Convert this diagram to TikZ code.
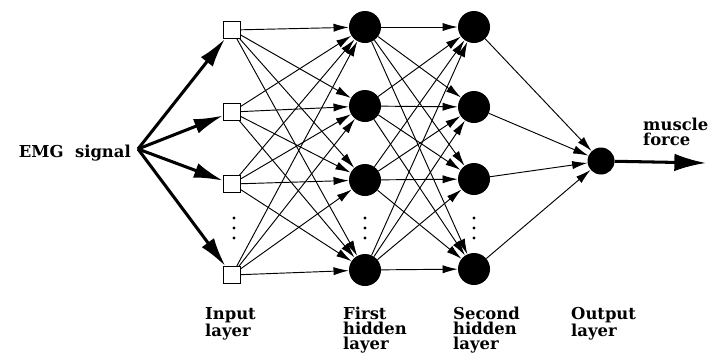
\documentclass[tikz,border=0pt]{standalone}
\usepackage{fontspec}
\setmainfont{DejaVu Serif}
\usetikzlibrary{arrows.meta}
\begin{document}
\begin{tikzpicture}[x=0.03cm, y=-0.03cm,
    font=\bfseries\fontsize{14}{12.8}\selectfont,
    >={Latex[length=13pt,width=7pt]},
    inbox/.style={draw, fill=white, line width=0.8pt, inner sep=0pt, minimum size=0.5cm},
    unit/.style={circle, fill, inner sep=0pt, minimum size=0.96cm},
    dot/.style={circle, fill, inner sep=0pt, minimum size=2.6pt},
    link/.style={->, line width=0.8pt},
    fat/.style={-{Latex[length=25pt,width=13pt]}, line width=2.6pt},
    label/.style={anchor=north west, align=left, inner sep=0pt}]
    \useasboundingbox (0,0) rectangle (716,356);
    \node (A0_0) at (232, 30) [inbox] {};
    \node (A0_1) at (232,112) [inbox] {};
    \node (A0_2) at (232,184) [inbox] {};
    \node (A0_3) at (232,275) [inbox] {};
    \node (A1_0) at (365, 27) [unit] {};
    \node (A1_1) at (365,106) [unit] {};
    \node (A1_2) at (365,180) [unit] {};
    \node (A1_3) at (365,270) [unit] {};
    \node (A2_0) at (474, 27) [unit] {};
    \node (A2_1) at (474,107) [unit] {};
    \node (A2_2) at (474,179) [unit] {};
    \node (A2_3) at (474,269) [unit] {};
    \node (A3_0) at (601,161) [circle, fill, inner sep=0pt, minimum size=0.81cm] {};
    % dots between the last two rows
    \foreach \c/\xc in {0/234, 1/365, 2/474}
      \foreach \r/\yr in {0/218, 1/228, 2/238}
        \node (D\c_\r) at (\xc,\yr) [dot] {};
    \coordinate (S) at (138,149);
    \coordinate (F) at (706,163);
    \node (E) at (131,157) [anchor=base east, inner sep=0pt] {EMG\ \ signal};
    \node (M) at (643,118) [label] {muscle\\force};
    \node (L0) at (205,307) [label] {Input\\layer};
    \node (L1) at (343,307) [label] {First\\hidden\\layer};
    \node (L2) at (453,307) [label] {Second\\hidden\\layer};
    \node (L3) at (571,307) [label] {Output\\layer};
    \foreach \i in {0,...,3} {
      \path (S) edge [fat] (A0_\i);
      \path (A2_\i) edge [link] (A3_0);
      \foreach \j in {0,...,3} {
        \path (A0_\i) edge [link] (A1_\j);
        \path (A1_\i) edge [link] (A2_\j);
      }
    }
    \path (A3_0) edge [-{Latex[length=27pt,width=15pt]}, line width=2.6pt] (F);
\end{tikzpicture}
\end{document}
